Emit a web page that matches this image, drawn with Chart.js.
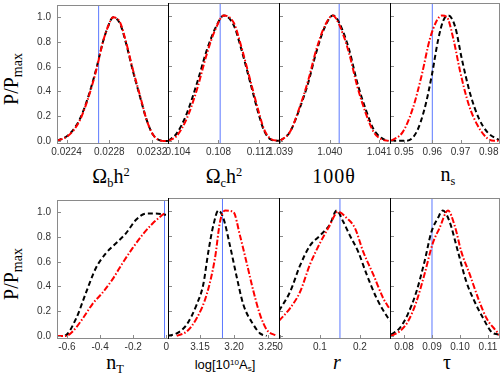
<!DOCTYPE html>
<html>
<head>
<meta charset="utf-8">
<script src="https://cdn.jsdelivr.net/npm/chart.js@4/dist/chart.umd.min.js"></script>
<style>
  html, body { margin: 0; padding: 0; background: #fff; overflow: hidden; }
  #wrap { position: relative; width: 501px; height: 374px; overflow: hidden; }
  #wrap canvas { position: absolute; }
  .ttl { position: absolute; font-family: "Liberation Serif", serif; font-size: 20px; line-height: 1; color: #000; white-space: nowrap; transform: translateX(-50%); }
  .ttl.sans { font-family: "Liberation Sans", sans-serif; font-size: 13px; }
  .ttl sub, .ttl sup { font-size: 62%; vertical-align: baseline; position: relative; }
  .ttl sub { top: 0.3em; }
  .ttl sup { top: -0.55em; }
  .ylab { position: absolute; font-family: "Liberation Serif", serif; font-size: 20px; line-height: 1; white-space: nowrap;
          transform: translate(-50%, -50%) rotate(-90deg); }
  .ylab sub { font-size: 70%; vertical-align: baseline; position: relative; top: 0.3em; }
</style>
</head>
<body>
<div id="wrap">
  <div class="ylab" style="left:11px;top:79px">P/P<sub>max</sub></div>
  <div class="ylab" style="left:11px;top:274px">P/P<sub>max</sub></div>

  <div class="ttl" style="left:111px;top:166px">Ω<sub>b</sub>h<sup>2</sup></div>
  <div class="ttl" style="left:224px;top:166px">Ω<sub>c</sub>h<sup>2</sup></div>
  <div class="ttl" style="left:334px;top:166px;letter-spacing:1px">100θ</div>
  <div class="ttl" style="left:448px;top:164px">n<sub>s</sub></div>

  <div class="ttl" style="left:115px;top:352px">n<sub>T</sub></div>
  <div class="ttl sans" style="left:225px;top:358px">log[10<sup>10</sup>A<sub>s</sub>]</div>
  <div class="ttl" style="left:337px;top:352px"><i>r</i></div>
  <div class="ttl" style="left:447px;top:352px">τ</div>
</div>

<script>
// ---- y axis (shared) ----
const Y_TICKS = [0, 0.2, 0.4, 0.6, 0.8, 1.0];
const Y_TICK_LABELS = ["0.0", "0.2", "0.4", "0.6", "0.8", "1.0"];
const Y_RANGE = [-0.017, 1.1];

// ---- x axes, one per panel: Ωbh², Ωch², 100θ, ns | nT, log As, r, τ ----
const X_MIN = [0.02231, 0.1030, 1.03897, 0.9450, -0.660, 3.103, -0.0025, 0.0750];
const X_MAX = [0.02335, 0.1140, 1.04122, 0.9840, 0.010, 3.266, 0.2752, 0.1143];
const X_TICKS = [
  [0.0224, 0.0228, 0.0232],
  [0.104, 0.108, 0.112],
  [1.039, 1.040, 1.041],
  [0.95, 0.96, 0.97, 0.98],
  [-0.6, -0.4, -0.2, 0],
  [3.15, 3.20, 3.25],
  [0, 0.1, 0.2],
  [0.08, 0.09, 0.10, 0.11],
];
const X_TICK_LABELS = [
  ["0.0224", "0.0228", "0.0232"],
  ["0.104", "0.108", "0.112"],
  ["1.039", "1.040", "1.041"],
  ["0.95", "0.96", "0.97", "0.98"],
  ["-0.6", "-0.4", "-0.2", "0"],
  ["3.15", "3.20", "3.25"],
  ["0", "0.1", "0.2"],
  ["0.08", "0.09", "0.10", "0.11"],
];

// blue vertical lines (fiducial values)
const FIDUCIAL = [0.02270, 0.10817, 1.04019, 0.9600, -0.011, 3.183, 0.150, 0.0900];

// ---- curves: black dashed / red dash-dot ----
const obh2_x     = [0.02231, 0.02242, 0.02252, 0.02260, 0.02268, 0.02274, 0.02279, 0.022835, 0.02290, 0.02296, 0.02302, 0.02309, 0.02315, 0.02321, 0.02331, 0.02335];
const obh2_black = [0, 0.05, 0.17, 0.35, 0.59, 0.80, 0.93, 1.0, 0.95, 0.78, 0.57, 0.35, 0.17, 0.05, 0, 0];
const obh2_red   = [0, 0.045, 0.16, 0.34, 0.58, 0.80, 0.93, 1.0, 0.96, 0.79, 0.58, 0.36, 0.17, 0.05, 0, 0];

const och2_x     = [0.10303, 0.10387, 0.10487, 0.10587, 0.10687, 0.10770, 0.10853, 0.10953, 0.11020, 0.11120, 0.11203, 0.11253, 0.11320, 0.11400];
const och2_black = [0, 0.06, 0.22, 0.46, 0.73, 0.90, 1.0, 0.92, 0.75, 0.45, 0.20, 0.08, 0.01, 0];
const och2_red   = [0, 0.04, 0.18, 0.41, 0.70, 0.89, 1.0, 0.94, 0.77, 0.47, 0.22, 0.09, 0.015, 0];

const theta_x     = [1.03899, 1.03919, 1.03939, 1.03956, 1.03972, 1.03989, 1.04006, 1.04012, 1.04026, 1.04039, 1.04056, 1.04072, 1.04089, 1.04106, 1.04119];
const theta_black = [0, 0.07, 0.26, 0.46, 0.70, 0.90, 1.0, 0.99, 0.88, 0.73, 0.46, 0.26, 0.09, 0.02, 0];
const theta_red   = [0, 0.07, 0.27, 0.48, 0.72, 0.91, 1.0, 0.98, 0.86, 0.70, 0.43, 0.23, 0.07, 0.01, 0];

const ns_black_x = [0.9454, 0.9508, 0.9544, 0.9573, 0.9598, 0.9621, 0.9639, 0.9657, 0.9681, 0.9705, 0.9735, 0.9765, 0.9795, 0.9825, 0.9840];
const ns_black   = [0, 0, 0.07, 0.26, 0.52, 0.81, 0.96, 1.0, 0.91, 0.65, 0.37, 0.18, 0.07, 0.02, 0.005];
const ns_red_x   = [0.9454, 0.9495, 0.9531, 0.9562, 0.9591, 0.9616, 0.9634, 0.9651, 0.9675, 0.9699, 0.9729, 0.9759, 0.9795, 0.9819, 0.9840];
const ns_red     = [0, 0.07, 0.26, 0.52, 0.81, 0.96, 1.0, 0.99, 0.81, 0.55, 0.29, 0.13, 0.02, 0, 0];

const nt_black_x = [-0.660, -0.616, -0.545, -0.485, -0.425, -0.364, -0.304, -0.244, -0.183, -0.123, -0.063, -0.002];
const nt_black   = [0, 0, 0.14, 0.35, 0.55, 0.67, 0.75, 0.83, 0.94, 0.99, 0.99, 0.98];
const nt_red_x   = [-0.660, -0.606, -0.566, -0.505, -0.445, -0.385, -0.324, -0.264, -0.204, -0.143, -0.083, -0.023, -0.003];
const nt_red     = [0, 0, 0.035, 0.14, 0.26, 0.35, 0.46, 0.59, 0.71, 0.82, 0.91, 0.98, 1.0];

const as_black_x = [3.1030, 3.1158, 3.1305, 3.1451, 3.1548, 3.1622, 3.1695, 3.1769, 3.1842, 3.1940, 3.2039, 3.2136, 3.2283, 3.2381, 3.2479];
const as_black   = [0, 0.02, 0.09, 0.25, 0.41, 0.67, 0.88, 1.0, 0.94, 0.72, 0.47, 0.25, 0.09, 0.02, 0];
const as_red_x   = [3.1158, 3.1305, 3.1451, 3.1598, 3.1720, 3.1794, 3.1868, 3.1989, 3.2087, 3.2186, 3.2283, 3.2381, 3.2479, 3.2626];
const as_red     = [0, 0.035, 0.14, 0.33, 0.62, 0.91, 1.0, 0.99, 0.80, 0.58, 0.36, 0.17, 0.05, 0];

const r_black_x = [-0.0025, 0.025, 0.05, 0.075, 0.1, 0.125, 0.1418, 0.1583, 0.175, 0.1958, 0.2168, 0.2418, 0.2708, 0.2752];
const r_black   = [0.20, 0.35, 0.56, 0.72, 0.80, 0.89, 1.0, 0.91, 0.80, 0.67, 0.49, 0.30, 0.14, 0.12];
const r_red_x   = [-0.0025, 0.025, 0.05, 0.075, 0.1, 0.1208, 0.1458, 0.1668, 0.1875, 0.2083, 0.2333, 0.2583, 0.2752];
const r_red     = [0.12, 0.22, 0.35, 0.57, 0.74, 0.86, 0.99, 0.94, 0.86, 0.67, 0.49, 0.30, 0.21];

const tau_black_x = [0.0754, 0.0784, 0.0813, 0.0844, 0.0873, 0.0898, 0.0921, 0.0939, 0.0963, 0.0993, 0.1023, 0.1053, 0.1083, 0.1113, 0.1137];
const tau_black   = [0.01, 0.06, 0.17, 0.35, 0.59, 0.83, 0.94, 1.0, 0.91, 0.67, 0.43, 0.27, 0.14, 0.03, 0.01];
const tau_red_x   = [0.0754, 0.0784, 0.0813, 0.0844, 0.0873, 0.0903, 0.0927, 0.0957, 0.0981, 0.1005, 0.1035, 0.1065, 0.1095, 0.1131, 0.1143];
const tau_red     = [0, 0.035, 0.11, 0.27, 0.49, 0.74, 0.86, 1.0, 0.88, 0.67, 0.49, 0.30, 0.14, 0.035, 0];

const CURVES = [
  [obh2_x, obh2_black, obh2_x, obh2_red],
  [och2_x, och2_black, och2_x, och2_red],
  [theta_x, theta_black, theta_x, theta_red],
  [ns_black_x, ns_black, ns_red_x, ns_red],
  [nt_black_x, nt_black, nt_red_x, nt_red],
  [as_black_x, as_black, as_red_x, as_red],
  [r_black_x, r_black, r_red_x, r_red],
  [tau_black_x, tau_black, tau_red_x, tau_red],
];

// ---- panel geometry ----
const COLS = [57, 168, 279, 390, 500];
const ROWS = [[3, 143], [198, 338]];
const PAD_L = 56, PAD_R = 30, PAD_T = 10, AX_H = 22;

Chart.defaults.font.family = "'Liberation Sans', Arial, sans-serif";
Chart.defaults.font.size = 10;
Chart.defaults.color = "#333";

const toPoints = (xs, ys) => xs.map((x, i) => ({ x, y: ys[i] }));

// frame + inward tick marks
const framePlugin = {
  id: "frame",
  afterDatasetsDraw(chart) {
    const { ctx, chartArea: a, scales: { x, y } } = chart;
    const col = chart.options.plugins.frame.col;
    ctx.save();
    ctx.lineWidth = 1;
    ctx.strokeStyle = "#8a8a8a";
    ctx.beginPath();
    Y_TICKS.forEach((v) => {
      const py = Math.round(y.getPixelForValue(v)) + 0.5;
      ctx.moveTo(a.left, py); ctx.lineTo(a.left + 4, py);
    });
    x.ticks.forEach((t) => {
      const px = Math.round(x.getPixelForValue(t.value)) + 0.5;
      ctx.moveTo(px, a.bottom); ctx.lineTo(px, a.bottom - 3);
    });
    // outer frame pieces (grey)
    ctx.moveTo(a.left, a.top + 0.5); ctx.lineTo(a.right, a.top + 0.5);
    ctx.moveTo(a.left, a.bottom + 0.5); ctx.lineTo(a.right, a.bottom + 0.5);
    if (col === 0) { ctx.moveTo(a.left + 0.5, a.top); ctx.lineTo(a.left + 0.5, a.bottom); }
    if (col === 3) { ctx.moveTo(a.right - 0.5, a.top); ctx.lineTo(a.right - 0.5, a.bottom); }
    ctx.stroke();
    // panel separators (black)
    if (col > 0) {
      ctx.strokeStyle = "#000";
      ctx.beginPath();
      ctx.moveTo(a.left + 0.5, a.top); ctx.lineTo(a.left + 0.5, a.bottom + 1);
      ctx.stroke();
    }
    ctx.restore();
  },
};

const wrap = document.getElementById("wrap");

for (let i = 0; i < 8; i++) {
  const col = i % 4, row = Math.floor(i / 4);
  const L = COLS[col], R = COLS[col + 1];
  const [T, B] = ROWS[row];
  const showY = col === 0;

  const cv = document.createElement("canvas");
  cv.width = R - L + PAD_L + PAD_R;
  cv.height = B - T + PAD_T + AX_H;
  cv.style.left = (L - PAD_L) + "px";
  cv.style.top = (T - PAD_T) + "px";
  wrap.appendChild(cv);

  const [bx, by, rx, ry] = CURVES[i];
  const xTicks = X_TICKS[i], xLabels = X_TICK_LABELS[i];

  new Chart(cv, {
    type: "line",
    data: {
      datasets: [
        {
          data: toPoints([FIDUCIAL[i], FIDUCIAL[i]], Y_RANGE),
          borderColor: "#5b78ff",
          borderWidth: 1,
          pointRadius: 0,
          order: 3,
        },
        {
          data: toPoints(bx, by),
          borderColor: "#000",
          borderWidth: 2,
          borderDash: [5, 3],
          pointRadius: 0,
          cubicInterpolationMode: "monotone",
          order: 2,
        },
        {
          data: toPoints(rx, ry),
          borderColor: "#ff0000",
          borderWidth: 2,
          borderDash: [6, 2, 1.5, 2],
          pointRadius: 0,
          cubicInterpolationMode: "monotone",
          order: 1,
        },
      ],
    },
    options: {
      responsive: false,
      animation: false,
      devicePixelRatio: 1,
      events: [],
      layout: { padding: { left: showY ? 0 : PAD_L, right: PAD_R, top: PAD_T, bottom: 0 } },
      plugins: { legend: { display: false }, tooltip: { enabled: false }, frame: { col } },
      scales: {
        x: {
          type: "linear",
          min: X_MIN[i],
          max: X_MAX[i],
          grid: { display: false, drawTicks: false },
          border: { display: false },
          afterBuildTicks: (s) => { s.ticks = xTicks.map((v) => ({ value: v })); },
          afterFit: (s) => { s.height = AX_H; },
          ticks: {
            autoSkip: false,
            maxRotation: 0,
            minRotation: 0,
            padding: 3,
            callback: (v, idx) => xLabels[idx],
          },
        },
        y: {
          display: showY,
          min: Y_RANGE[0],
          max: Y_RANGE[1],
          grid: { display: false, drawTicks: false },
          border: { display: false },
          afterBuildTicks: (s) => { s.ticks = Y_TICKS.map((v) => ({ value: v })); },
          afterFit: (s) => { if (showY) s.width = PAD_L; },
          ticks: { padding: 6, callback: (v, idx) => Y_TICK_LABELS[idx] },
        },
      },
    },
    plugins: [framePlugin],
  });
}
</script>
</body>
</html>
